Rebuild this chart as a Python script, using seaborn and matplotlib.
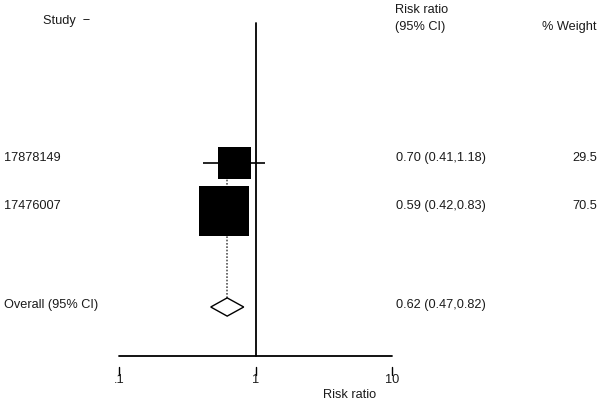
import matplotlib
matplotlib.use("Agg")
import matplotlib.pyplot as plt
import seaborn as sns
import numpy as np

# data
studies = ["17878149", "17476007"]
rr = [0.70, 0.59]
ci_low = [0.41, 0.42]
ci_high = [1.18, 0.83]
weights = [29.5, 70.5]

overall_label = "Overall (95% CI)"
overall_rr = 0.62
overall_low = 0.47
overall_high = 0.82

tick_values = [0.1, 1, 10]
tick_labels = [".1", "1", "10"]

sns.set_style("white")
plt.rcParams["font.family"] = ["Liberation Sans", "DejaVu Sans"]
FS = 9.2
TXT = "#1a1a1a"

fig = plt.figure(figsize=(6.0, 4.03), dpi=100)
ax = fig.add_axes([0, 0, 1, 1])
ax.set_xscale("log")
ax.set_xlim(10 ** -1.8718, 10 ** 2.5238)
ax.set_ylim(5.0, -3.396)
ax.axis("off")

rows = np.arange(len(studies))
overall_row = 3
axis_row = 4.02

# dotted line for the pooled estimate
ax.plot([overall_rr, overall_rr], [rows[0], overall_row], color="#555555",
        linestyle=(0, (1, 1)), lw=1.2, zorder=1)

# confidence intervals
ax.hlines(rows, ci_low, ci_high, color="black", lw=1.2, zorder=2)

# weighted squares
sides = 6.0 * np.sqrt(weights) * 0.72
sns.scatterplot(x=rr, y=rows, marker="s", s=sides ** 2, color="black",
                linewidth=0, ax=ax, zorder=3, legend=False)

# diamond for the overall estimate
h = 0.19
ax.fill([overall_low, overall_rr, overall_high, overall_rr],
        [overall_row, overall_row - h, overall_row, overall_row + h],
        facecolor="white", edgecolor="black", lw=1, zorder=3)

# line of no effect and x axis
ax.plot([1, 1], [-2.92, axis_row], color="black", lw=1.3, zorder=2)
ax.plot([tick_values[0], tick_values[-1]], [axis_row, axis_row], color="black", lw=1.3)
for v, lab in zip(tick_values, tick_labels):
    ax.plot([v, v], [4.25, 4.42], color="black", lw=1)
    ax.text(v, 4.52, lab, ha="center", va="center", fontsize=FS, color=TXT)
ax.text(350 / 600, 4.84, "Risk ratio", transform=ax.get_yaxis_transform(),
        ha="center", va="center", fontsize=FS, color=TXT)

# text columns
tr = ax.get_yaxis_transform()
ax.text(43 / 600, -2.96, "Study  \u2212", transform=tr, ha="left", va="center", fontsize=FS, color=TXT)
ax.text(395 / 600, -3.19, "Risk ratio", transform=tr, ha="left", va="center", fontsize=FS, color=TXT)
ax.text(395 / 600, -2.83, "(95% CI)", transform=tr, ha="left", va="center", fontsize=FS, color=TXT)
ax.text(597 / 600, -2.83, "% Weight", transform=tr, ha="right", va="center", fontsize=FS, color=TXT)

for r, name, e, lo, hi, w in zip(rows, studies, rr, ci_low, ci_high, weights):
    ax.text(4 / 600, r - 0.1, name, transform=tr, ha="left", va="center", fontsize=FS, color=TXT)
    ax.text(396 / 600, r - 0.1, f"{e:.2f} ({lo:.2f},{hi:.2f})", transform=tr,
            ha="left", va="center", fontsize=FS, color=TXT)
    ax.text(597 / 600, r - 0.1, f"{w:.1f}", transform=tr, ha="right", va="center",
            fontsize=FS, color=TXT)

ax.text(4 / 600, overall_row - 0.05, overall_label, transform=tr, ha="left", va="center",
        fontsize=FS, color=TXT)
ax.text(396 / 600, overall_row - 0.05,
        f"{overall_rr:.2f} ({overall_low:.2f},{overall_high:.2f})", transform=tr,
        ha="left", va="center", fontsize=FS, color=TXT)

fig.savefig("out.png", dpi=100, facecolor="white")
